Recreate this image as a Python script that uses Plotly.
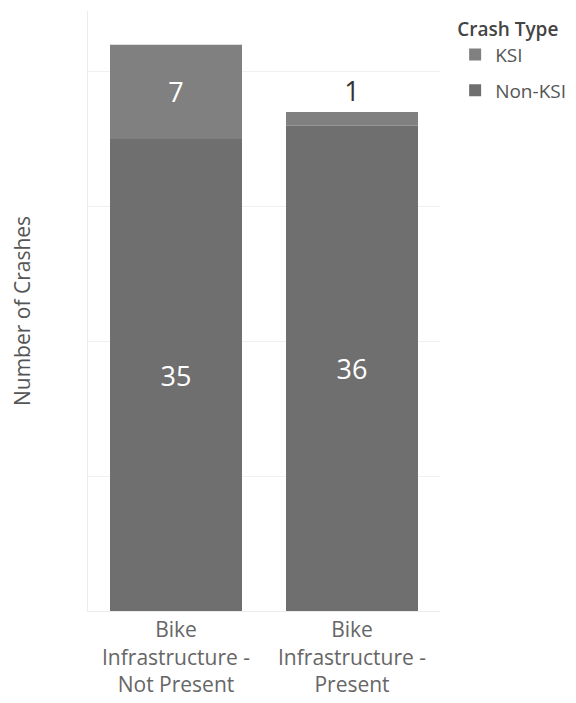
import plotly.graph_objects as go

categories = ["Bike<br>Infrastructure -<br>Not Present", "Bike<br>Infrastructure -<br>Present"]
non_ksi = [35, 36]
ksi = [7, 1]

FONT = "Open Sans"

fig = go.Figure()
fig.add_trace(go.Bar(
    name="KSI", x=categories, y=ksi, base=non_ksi,
    marker=dict(color="#808080", line=dict(width=0)),
    text=[str(v) for v in ksi], textposition=["inside", "outside"], insidetextanchor="middle",
    textfont=dict(color=["white", "#333333"], size=27, family=FONT),
    constraintext="none", cliponaxis=False, legendgroup="a",
))
fig.add_trace(go.Bar(
    name="Non-KSI", x=categories, y=non_ksi,
    marker=dict(color="#6f6f6f", line=dict(width=0)),
    text=[str(v) for v in non_ksi], textposition="inside", insidetextanchor="middle",
    textfont=dict(color="white", size=27, family=FONT),
    constraintext="none", legendgroup="b",
))

fig.update_layout(
    width=568, height=695,
    margin=dict(l=80, r=136, t=3, b=92),
    barmode="overlay", bargap=0.25,
    paper_bgcolor="white", plot_bgcolor="white",
    font=dict(family=FONT, color="#666666"),
    legend=dict(
        title=dict(text="Crash Type", font=dict(size=19, color="#444444", family=FONT, weight=600)),
        x=1.043, y=1.0, xanchor="left", yanchor="top",
        traceorder="grouped", tracegroupgap=8,
        font=dict(size=19, color="#555555", family=FONT),
    ),
    xaxis=dict(
        showgrid=False, showline=True, linecolor="#ececec", linewidth=1,
        tickfont=dict(size=21, color="#666666", family=FONT), ticks="",
    ),
    yaxis=dict(
        range=[0, 44.5], tickvals=[0, 10, 20, 30, 40], showticklabels=False,
        showgrid=True, gridcolor="#f0f0f0", gridwidth=1, zeroline=False,
        showline=True, linecolor="#ececec", linewidth=1,
        title=dict(text="Number of Crashes", font=dict(size=21, color="#555555", family=FONT), standoff=58),
    ),
)

fig.write_html("out.html")
